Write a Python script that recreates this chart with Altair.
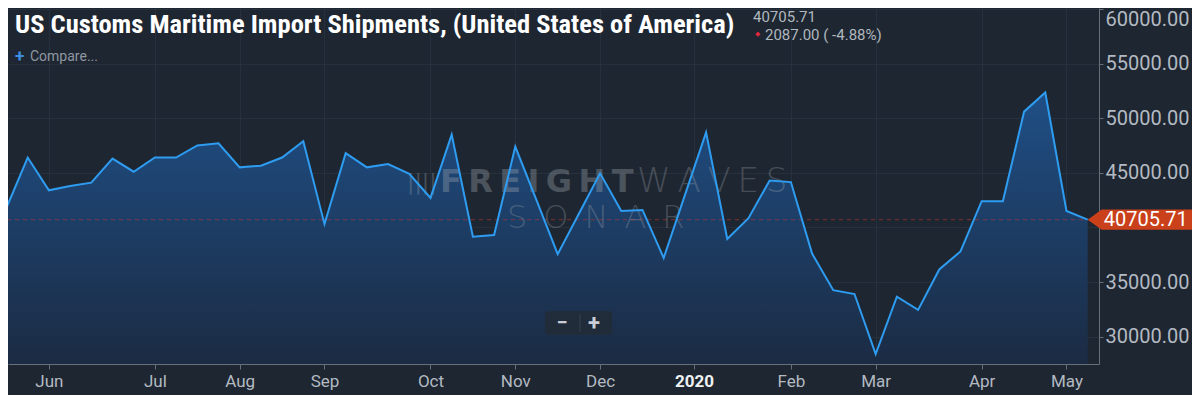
import altair as alt
import pandas as pd

# ---------------- data ----------------
week_start = "2019-05-12"
n_weeks = 53
values = [
    45400, 41800, 46400, 43400, 43800, 44100, 46300, 45100, 46400, 46400,
    47500, 47700, 45500, 45650, 46400, 47900, 40300, 46800, 45500, 45800,
    44900, 42700, 48500, 39150, 39300, 47400, 42500, 37550, 41250, 44950,
    41500, 41600, 37200, 42950, 48700, 38950, 40850, 44300, 44150, 37600,
    34250, 33900, 28400, 33650, 32450, 36150, 37800, 42400, 42400, 50600,
    52350, 41500, 40705.71,
]
dates = pd.date_range(week_start, periods=n_weeks, freq="7D")
df = pd.DataFrame({"date": dates, "value": values})

last_value = values[-1]
last_date = dates[-1]
df_last = pd.DataFrame({"date": [last_date], "value": [last_value]})

y_ticks = [30000, 35000, 40000, 45000, 50000, 55000, 60000]
x_ticks = [
    alt.DateTime(year=2019, month=6, date=2),
    alt.DateTime(year=2019, month=7, date=7),
    alt.DateTime(year=2019, month=8, date=4),
    alt.DateTime(year=2019, month=9, date=1),
    alt.DateTime(year=2019, month=10, date=6),
    alt.DateTime(year=2019, month=11, date=3),
    alt.DateTime(year=2019, month=12, date=1),
    alt.DateTime(year=2020, month=1, date=1),
    alt.DateTime(year=2020, month=2, date=2),
    alt.DateTime(year=2020, month=3, date=1),
    alt.DateTime(year=2020, month=4, date=5),
    alt.DateTime(year=2020, month=5, date=3),
]

title_text = "US Customs Maritime Import Shipments, (United States of America)"
header_value = "40705.71"
header_change = "2087.00 ( -4.88%)"

# ---------------- style ----------------
BG = "#1e2631"
GRID = "#27313e"
AXIS = "#66707b"
LABEL = "#b3bac2"
Y_MIN, Y_MAX = 27491, 60092
W, H = 1091, 356

xscale = alt.Scale(domain=[alt.DateTime(year=2019, month=5, date=19, hours=11, minutes=53),
                           alt.DateTime(year=2020, month=5, date=13, hours=17, minutes=45)])
yscale = alt.Scale(domain=[Y_MIN, Y_MAX], zero=False, nice=False)

xaxis = alt.Axis(
    values=x_ticks, title=None, grid=True, gridColor=GRID, domainColor=AXIS, tickColor=AXIS,
    tickSize=5, labelPadding=4, labelFontSize=17, labelFont="Roboto", labelOverlap=False,
    labelExpr="month(datum.value) == 0 ? timeFormat(datum.value, '%Y') : timeFormat(datum.value, '%b')",
    labelColor={"condition": {"test": "month(datum.value) == 0", "value": "#eef1f4"}, "value": LABEL},
    labelFontWeight={"condition": {"test": "month(datum.value) == 0", "value": "bold"}, "value": "normal"},
)
yaxis = alt.Axis(
    orient="right", values=y_ticks, title=None, grid=True, gridColor=GRID, domainColor=AXIS,
    tickColor=AXIS, tickSize=4, labelPadding=2, labelFontSize=20, labelFont="Roboto",
    labelColor=LABEL, labelFlush=2, labelOverlap=False,
    labelExpr="datum.value == 40000 ? '' : format(datum.value, '.2f')",
)

base = alt.Chart(df).encode(
    x=alt.X("date:T", scale=xscale, axis=xaxis),
)

area = base.mark_area(
    clip=True,
    color=alt.Gradient(
        gradient="linear", x1=0, x2=0, y1=0, y2=1,
        stops=[alt.GradientStop(color="#1f4f86", offset=0),
               alt.GradientStop(color="#1b2b43", offset=1)],
    ),
).encode(
    y=alt.Y("value:Q", scale=yscale, axis=yaxis),
    y2=alt.datum(Y_MIN),
)

line = base.mark_line(clip=True, color="#2e9cf0", strokeWidth=2).encode(y=alt.Y("value:Q"))

rule = alt.Chart(df_last).mark_rule(color="#c0392b", strokeDash=[4, 4], opacity=0.6, strokeWidth=1).encode(
    y=alt.Y("value:Q")
)

one = pd.DataFrame({"k": [0]})


def txt(s, x, y, size, color, weight="normal", font="Roboto", align="left", baseline="middle", opacity=1.0):
    return alt.Chart(one).mark_text(
        text=s, align=align, baseline=baseline, fontSize=size, color=color,
        fontWeight=weight, font=font, opacity=opacity,
    ).encode(x=alt.value(x), y=alt.value(y))


title = txt(title_text, 7, 24.6, 26.5, "#ffffff", weight="bold",
            font="Roboto Condensed, Liberation Sans Narrow, Arial Narrow, Roboto", baseline="alphabetic")
plus = txt("+", 7, 49, 17, "#3d8fe3", weight="bold")
compare = txt("Compare...", 22, 49, 14, "#8e97a1")
hv = txt(header_value, 745, 2.4, 15, "#b0b7bf", baseline="top")
hc = txt(header_change, 757, 31.5, 15, "#b0b7bf", baseline="alphabetic")
diamond = alt.Chart(one).mark_point(shape="diamond", filled=True, size=28, color="#e0283c", opacity=1).encode(
    x=alt.value(750), y=alt.value(26.2)
)

WM = "#a0a6ad"
TS = "\u2009"
ES = "\u2002"
wm_bar = txt("||||", 399, 174, 22, WM, opacity=0.3, font="DejaVu Sans")
wm_f = txt(TS.join("FREIGHT"), 432, 174, 32, WM, weight=900, font="DejaVu Sans", opacity=0.35)
wm_w = txt(TS.join("WAVES"), 629, 174, 34, WM, weight=200, font="DejaVu Sans", opacity=0.3)
wm_s = txt(ES.join("SONAR"), 499, 210, 32, WM, weight=200, font="DejaVu Sans", opacity=0.3)

zoom_box = alt.Chart(one).mark_rect(color="#222c38", cornerRadius=3, opacity=0.9).encode(
    x=alt.value(537), x2=alt.value(604), y=alt.value(303), y2=alt.value(327)
)
zoom_div = alt.Chart(one).mark_rule(color="#34404e").encode(
    x=alt.value(572), y=alt.value(306), y2=alt.value(324)
)
zoom_minus = txt("−", 554, 315, 20, "#c9cfd5", weight="bold", align="center")
zoom_plus = txt("+", 586, 315, 22, "#c9cfd5", weight="bold", align="center")

marker = alt.Chart(df_last).mark_point(
    shape="M0,0L0.25,-0.18L2,-0.18L2,0.18L0.25,0.18Z", filled=True, size=12544,
    color="#c9401b", opacity=1, strokeWidth=0,
).encode(x=alt.X("date:T"), y=alt.Y("value:Q"))
marker_text = alt.Chart(df_last).mark_text(
    align="center", baseline="middle", fontSize=20, font="Roboto", color="#ffffff", dx=58,
).encode(x=alt.X("date:T"), y=alt.Y("value:Q"), text=alt.Text("value:Q", format=".2f"))

chart = alt.layer(
    area, rule, wm_bar, wm_f, wm_w, wm_s, line, zoom_box, zoom_div, zoom_minus, zoom_plus,
    title, plus, compare, hv, diamond, hc, marker, marker_text,
).properties(
    width=W, height=H,
    autosize=alt.AutoSizeParams(type="none"),
    padding={"left": 0, "top": 0, "right": 93, "bottom": 31},
    background=BG,
).configure_view(strokeWidth=0)

chart.save("out.html", embed_options={"renderer": "svg", "actions": False})
